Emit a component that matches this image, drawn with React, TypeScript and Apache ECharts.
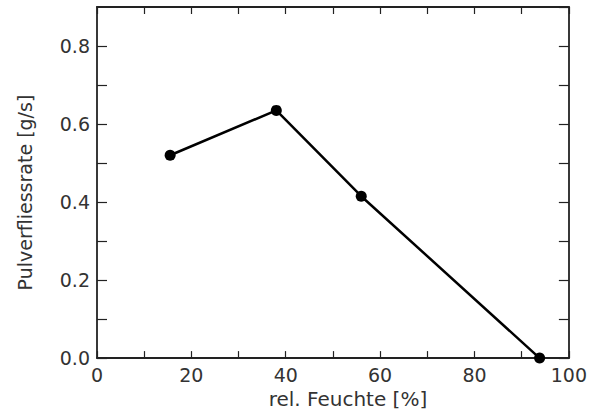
import React, { useEffect, useRef } from "react";
import * as echarts from "echarts";

const humidity = [15.5, 38, 56, 93.8];
const flowRate = [0.52, 0.635, 0.415, 0.0];
const xLabels = ["0", "20", "40", "60", "80", "100"];
const yLabels = ["0.0", "0.2", "0.4", "0.6", "0.8"];

const FONT = "DejaVu Sans";
const TEXT = "#333";
const AXIS = "#222";

export default function App() {
  const ref = useRef<HTMLDivElement>(null);
  useEffect(() => {
    const chart = echarts.init(ref.current!, null, { renderer: "svg" });
    const xFmt = (v: number) => {
      const s = String(Math.round(v));
      return xLabels.includes(s) ? s : "";
    };
    const yFmt = (v: number) => {
      const s = (Math.round(v * 10) / 10).toFixed(1);
      return yLabels.includes(s) ? s : "";
    };
    const lineStyle = { color: AXIS, width: 1.8 };
    chart.setOption({
      animation: false,
      grid: { left: 97, right: 17, top: 7, bottom: 53, containLabel: false },
      xAxis: [
        {
          type: "value",
          min: 0,
          max: 100,
          interval: 10,
          position: "bottom",
          name: "rel. Feuchte [%]",
          nameLocation: "middle",
          nameGap: 28,
          nameTextStyle: { fontFamily: FONT, fontSize: 20, color: TEXT, padding: [0, 0, 0, 30] },
          axisLine: { show: true, onZero: false, lineStyle },
          axisTick: { show: true, inside: true, length: 7, lineStyle: { color: AXIS, width: 1.2 } },
          axisLabel: { formatter: xFmt, fontFamily: FONT, fontSize: 19, color: TEXT, margin: 7 },
          splitLine: { show: false },
        },
        {
          type: "value",
          min: 0,
          max: 100,
          interval: 10,
          position: "top",
          axisLine: { show: true, onZero: false, lineStyle },
          axisTick: { show: true, inside: true, length: 7, lineStyle: { color: AXIS, width: 1.2 } },
          axisLabel: { show: false },
          splitLine: { show: false },
        },
      ],
      yAxis: [
        {
          type: "value",
          min: 0,
          max: 0.9,
          interval: 0.1,
          position: "left",
          name: "Pulverfliessrate [g/s]",
          nameLocation: "middle",
          nameGap: 63,
          nameTextStyle: { fontFamily: FONT, fontSize: 19, color: TEXT, padding: [0, 20, 0, 0] },
          axisLine: { show: true, onZero: false, lineStyle },
          axisTick: { show: true, inside: true, length: 10, lineStyle: { color: AXIS, width: 1.2 } },
          axisLabel: { formatter: yFmt, fontFamily: FONT, fontSize: 19, color: TEXT, margin: 7, showMaxLabel: false },
          splitLine: { show: false },
        },
        {
          type: "value",
          min: 0,
          max: 0.9,
          interval: 0.1,
          position: "right",
          axisLine: { show: true, onZero: false, lineStyle },
          axisTick: { show: true, inside: true, length: 10, lineStyle: { color: AXIS, width: 1.2 } },
          axisLabel: { show: false },
          splitLine: { show: false },
        },
      ],
      series: [
        {
          type: "line",
          xAxisIndex: 0,
          yAxisIndex: 0,
          data: humidity.map((h, i) => [h, flowRate[i]]),
          symbol: "circle",
          symbolSize: 11,
          itemStyle: { color: "#000" },
          lineStyle: { color: "#000", width: 2.5 },
          clip: false,
        },
      ],
    });
    return () => chart.dispose();
  }, []);
  return (
    <div
      ref={ref}
      style={{ position: "fixed", left: 0, top: 0, width: 590, height: 414, background: "#fff" }}
    />
  );
}
